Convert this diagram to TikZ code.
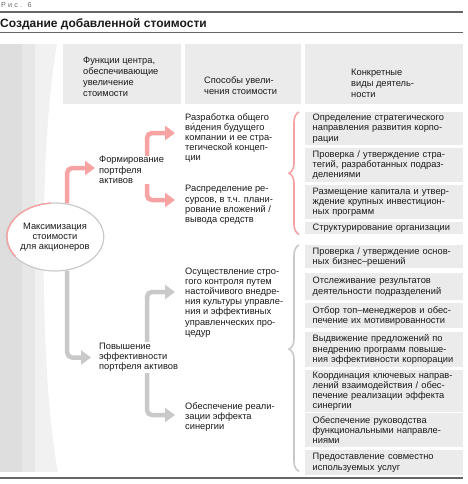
\documentclass[tikz,border=0pt]{standalone}
\usepackage{fontspec}
\setmainfont{Liberation Sans}
\usetikzlibrary{positioning, arrows.meta, shapes.geometric, backgrounds, decorations.pathreplacing}
\definecolor{Ink}{HTML}{1A1A1A}
\definecolor{Rule}{HTML}{666666}
\definecolor{Blush}{HTML}{F7A3A3}
\definecolor{Ash}{HTML}{C9C9C9}
\definecolor{Mist}{HTML}{EBEBEB}
\definecolor{BandA}{HTML}{DEDEDE}
\definecolor{BandB}{HTML}{E7E7E7}
\definecolor{BandC}{HTML}{F1F1F1}
\newcommand{\bodyfont}{\fontsize{9.3}{10.2}\selectfont}
\newcommand{\headfont}{\fontsize{9.3}{11}\selectfont}
\tikzset{
    hdbox/.style={rectangle, fill=Mist, anchor=north west, inner sep=0pt, minimum height=60pt},
    hdtext/.style={anchor=west, align=left, inner sep=0pt, text=Ink, font=\headfont},
    steptext/.style={anchor=west, align=left, fill=white, inner sep=1pt, text=Ink, font=\bodyfont},
    actbox/.style={rectangle, fill=Mist, anchor=north west, minimum width=158pt, text width=143pt, inner xsep=7.5pt, inner ysep=1.5pt, align=left, text=Ink, font=\bodyfont},
    goal/.style={ellipse, draw=Ash, line width=1.2pt, fill=white, minimum width=96pt, minimum height=68pt, inner sep=0pt, align=center, text=Ink, font=\bodyfont},
    pinkarrow/.style={line width=4.5pt, Blush, -{Triangle[width=14pt,length=10pt]}, rounded corners=5pt},
    grayarrow/.style={pinkarrow, Ash},
    pinkbrace/.style={decorate, decoration={brace, amplitude=10pt}, line width=1.6pt, Blush},
    graybrace/.style={decorate, decoration={brace, amplitude=10pt, aspect=0.54}, line width=1.6pt, Ash},
    rulebar/.style={Rule, line width=2pt},
}

\begin{document}
\begin{tikzpicture}[x=1pt, y=-1pt]
    \useasboundingbox (0,0) rectangle (467,484);

    % Шапка
    \node[anchor=west, inner sep=0pt, text=Rule, font=\fontsize{7.2}{8}\selectfont\addfontfeature{LetterSpace=30}] (fig) at (1,5) {Рис. 6};
    \draw[rulebar] (0,12) -- (463,12);
    \node[anchor=west, inner sep=0pt, text=Ink, font=\fontsize{12}{14}\selectfont\bfseries] (title) at (0,24) {Создание добавленной стоимости};
    \draw[Rule, line width=1pt] (0,33) -- (463,33);

    % Полоса слева
    \begin{scope}[on background layer]
        \fill[BandC] (0,44) -- (57,44) .. controls (38,150) and (40,380) .. (58,472) -- (0,472) -- cycle;
        \fill[BandB] (0,44) rectangle (35,472);
        \fill[BandA] (0,44) rectangle (22,472);
    \end{scope}

    % Заголовки колонок
    \node[hdbox, minimum width=118pt] (hd1) at (63,44) {};
    \node[hdbox, minimum width=116pt] (hd2) at (185,44) {};
    \node[hdbox, minimum width=158pt] (hd3) at (305,44) {};
    \node[hdtext] (hdt1) at (83,76.5) {Функции центра,\\обеспечивающие\\увеличение\\стоимости};
    \node[hdtext] (hdt2) at (204,85.5) {Способы увели-\\чения стоимости};
    \node[hdtext] (hdt3) at (351,83.5) {Конкретные\\виды деятель-\\ности};

    % Цель
    \node[goal] (goal) at (55,237) {Максимизация\\стоимости\\для акционеров};
    \draw[Blush, line width=1.4pt] (goal.center) ++(-95:48 and 34) arc[start angle=-95, end angle=-215, x radius=48, y radius=34];

    % Функции центра
    \node[steptext] (form) at (98,170) {Формирование\\портфеля\\активов};
    \node[steptext] (eff) at (98,357.5) {Повышение\\эффективности\\портфеля активов};

    % Способы увеличения стоимости
    \node[steptext] (vision) at (184,138) {Разработка общего\\ви́дения будущего\\компании и ее стра-\\тегической концеп-\\ции};
    \node[steptext] (alloc) at (184,205) {Распределение ре-\\сурсов, в т.ч. плани-\\рование вложений /\\вывода средств};
    \node[steptext] (ctrl) at (184,302.5) {Осуществление стро-\\гого контроля путем\\настойчивого внедре-\\ния культуры управле-\\ния и эффективных\\управленческих про-\\цедур};
    \node[steptext] (syn) at (184,417) {Обеспечение реали-\\зации эффекта\\синергии};

    % Виды деятельности
    \node[actbox, minimum height=33pt] (a1) at (305,112) {Определение стратегического\\направления развития корпо-\\рации};
    \node[actbox, minimum height=34pt] (a2) at (305,148) {Проверка / утверждение стра-\\тегий, разработанных подраз-\\делениями};
    \node[actbox, minimum height=34pt] (a3) at (305,185) {Размещение капитала и утвер-\\ждение крупных инвестицион-\\ных программ};
    \node[actbox, minimum height=12pt] (a4) at (305,222) {Структурирование организации};
    \node[actbox, minimum height=23pt] (b1) at (305,245) {Проверка / утверждение основ-\\ных бизнес–решений};
    \node[actbox, minimum height=27pt] (b2) at (305,273) {Отслеживание результатов\\деятельности подразделений};
    \node[actbox, minimum height=25pt] (b3) at (305,303) {Отбор топ–менеджеров и обес-\\печение их мотивированности};
    \node[actbox, minimum height=35pt] (b4) at (305,332) {Выдвижение предложений по\\внедрению программ повыше-\\ния эффективности корпорации};
    \node[actbox, minimum height=38pt] (b5) at (305,370) {Координация ключевых направ-\\лений взаимодействия / обес-\\печение реализации эффекта\\синергии};
    \node[actbox, minimum height=34pt] (b6) at (305,413) {Обеспечение руководства\\функциональными направле-\\ниями};
    \node[actbox, minimum height=25pt] (b7) at (305,450) {Предоставление совместно\\используемых услуг};

    % Стрелки
    \begin{scope}[on background layer]
        \coordinate (pj) at (147,170);
        \coordinate (gj) at (147,357.5);
        \draw[pinkarrow, shorten >=3pt] (goal.70) |- ([yshift=2pt]form.west);
        \draw[pinkarrow, shorten >=9pt] (pj) |- ([yshift=5pt]vision.west);
        \draw[pinkarrow, shorten >=9pt] (pj) |- ([yshift=5pt]alloc.west);
        \draw[grayarrow, shorten >=7pt] (goal.-70) |- (eff.west);
        \draw[grayarrow, shorten >=9pt] (gj) |- ([yshift=10.5pt]ctrl.west);
        \draw[grayarrow, shorten >=9pt] (gj) |- ([yshift=2pt]syn.west);
    \end{scope}

    % Скобки
    \draw[pinkbrace] ([xshift=-6pt]a4.south west) -- ([xshift=-6pt]a1.north west);
    \draw[graybrace] ([xshift=-6pt,yshift=4pt]b7.south west) -- ([xshift=-6pt]b1.north west);

    % Нижняя линия
    \draw[rulebar, line width=2.5pt] (0,478) -- (463,478);
\end{tikzpicture}
\end{document}
